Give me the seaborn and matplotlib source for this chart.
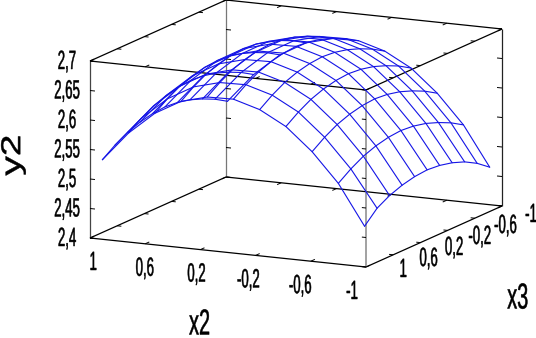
"""Wireframe response surface of y2 over x2 and x3, drawn with a fixed oblique projection."""

import matplotlib

matplotlib.use("Agg")
import matplotlib.patheffects as path_effects
import matplotlib.pyplot as plt
import pandas as pd
import seaborn as sns
from matplotlib.transforms import Affine2D

# Surface grid
x2_grid = [0.94, 0.75, 0.56, 0.37, 0.18, -0.01, -0.20, -0.39, -0.58, -0.77, -0.96]
x3_grid = [0.94, 0.756, 0.572, 0.388, 0.204, 0.02, -0.164, -0.348, -0.532, -0.716, -0.90]

# One row per x2 value, one column per x3 value
y2_grid = [
    [2.531, 2.546, 2.558, 2.566, 2.571, 2.573, 2.571, 2.566, 2.558, 2.548, 2.535],
    [2.581, 2.596, 2.608, 2.616, 2.621, 2.623, 2.621, 2.616, 2.608, 2.598, 2.585],
    [2.619, 2.634, 2.646, 2.654, 2.659, 2.661, 2.659, 2.654, 2.646, 2.636, 2.623],
    [2.644, 2.659, 2.671, 2.679, 2.684, 2.686, 2.684, 2.679, 2.671, 2.661, 2.648],
    [2.656, 2.671, 2.683, 2.691, 2.696, 2.698, 2.696, 2.691, 2.683, 2.673, 2.660],
    [2.657, 2.672, 2.684, 2.692, 2.697, 2.699, 2.697, 2.692, 2.684, 2.674, 2.661],
    [2.644, 2.659, 2.671, 2.679, 2.684, 2.686, 2.684, 2.679, 2.671, 2.661, 2.648],
    [2.620, 2.635, 2.647, 2.655, 2.660, 2.662, 2.660, 2.655, 2.647, 2.637, 2.624],
    [2.582, 2.597, 2.609, 2.617, 2.622, 2.624, 2.622, 2.617, 2.609, 2.599, 2.586],
    [2.533, 2.548, 2.560, 2.568, 2.573, 2.575, 2.573, 2.568, 2.560, 2.550, 2.537],
    [2.465, 2.486, 2.498, 2.506, 2.511, 2.513, 2.511, 2.506, 2.498, 2.486, 2.470],
]

# Axis ticks and their labels
x_ticks = [1, 0.6, 0.2, -0.2, -0.6, -1]
x_tick_labels = ["1", "0,6", "0,2", "-0,2", "-0,6", "-1"]
y_ticks = [2.4, 2.45, 2.5, 2.55, 2.6, 2.65, 2.7]
y_tick_labels = ["2,4", "2,45", "2,5", "2,55", "2,6", "2,65", "2,7"]


class Squeeze(path_effects.AbstractPathEffect):
    """Scale the glyph outlines about their centre; the text itself stays as is."""

    def __init__(self, sx=1.0, sy=1.0, stroke=0.35):
        super().__init__()
        self.sx = sx
        self.sy = sy
        self.stroke = stroke

    def draw_path(self, renderer, gc, tpath, affine, rgbFace=None):
        box = tpath.get_extents()
        cx, cy = (box.x0 + box.x1) / 2, (box.y0 + box.y1) / 2
        squeeze = Affine2D().translate(-cx, -cy).scale(self.sx, self.sy).translate(cx, cy)
        gc0 = renderer.new_gc()
        gc0.copy_properties(gc)
        gc0.set_foreground("black")
        gc0.set_linewidth(self.stroke)
        renderer.draw_path(gc0, tpath, squeeze + affine, rgbFace)
        gc0.restore()


def project(x2, x3, y2):
    """Map data coordinates to figure pixels (oblique projection of the box)."""
    u = (1 - x2) / 2
    v = (1 - x3) / 2
    px = 90 + 276 * u + 136 * v
    py = 238 + 29 * u - 61 * v - 177 * (y2 - 2.4) / 0.3
    return px, py


def segment(ax, start, end, color="black", lw=0.9):
    xs, ys = zip(project(*start), project(*end))
    ax.plot(xs, ys, color=color, lw=lw, solid_capstyle="butt")


def label(ax, px, py, text, size=19, sx=0.5, sy=1.0, rotation=0):
    ax.text(
        px, py, text, fontsize=size, rotation=rotation, ha="center", va="center",
        color="black", path_effects=[Squeeze(sx, sy)],
    )


def surface_table():
    rows = []
    for i, x2 in enumerate(x2_grid):
        for j, x3 in enumerate(x3_grid):
            px, py = project(x2, x3, y2_grid[i][j])
            rows.append({"line": f"x2_{i}", "order": j, "px": px, "py": py})
    for j, x3 in enumerate(x3_grid):
        for i, x2 in enumerate(x2_grid):
            px, py = project(x2, x3, y2_grid[i][j])
            rows.append({"line": f"x3_{j}", "order": i, "px": px, "py": py})
    return pd.DataFrame(rows)


sns.set_theme(style="white")
plt.rcParams["font.family"] = ["Liberation Sans", "DejaVu Sans"]

fig, ax = plt.subplots(figsize=(5.36, 3.38), dpi=100)
fig.subplots_adjust(left=0, right=1, bottom=0, top=1)

# Box edges
for y in (2.4, 2.7):
    segment(ax, (1, 1, y), (-1, 1, y))
    segment(ax, (1, -1, y), (-1, -1, y))
    segment(ax, (1, 1, y), (1, -1, y))
    segment(ax, (-1, 1, y), (-1, -1, y))
segment(ax, (1, 1, 2.4), (1, 1, 2.7), color="#444444")
segment(ax, (-1, -1, 2.4), (-1, -1, 2.7), color="#222222")
segment(ax, (1, -1, 2.4), (1, -1, 2.7), color="#777777")
segment(ax, (-1, 1, 2.4), (-1, 1, 2.7), color="#888888", lw=1.1)

# Tick marks on all the edges
for y in (2.4, 2.7):
    for t in x_ticks:
        segment(ax, (t, 1, y), (t, 0.94, y), lw=0.7)
        segment(ax, (t, -1, y), (t, -0.94, y), lw=0.7)
        segment(ax, (1, t, y), (0.97, t, y), lw=0.7)
        segment(ax, (-1, t, y), (-0.97, t, y), lw=0.7)
for y in y_ticks:
    segment(ax, (1, 1, y), (0.964, 1, y), lw=0.7)
    segment(ax, (1, -1, y), (0.964, -1, y), lw=0.7)
    segment(ax, (-1, 1, y), (-0.97, 1, y), lw=0.7)
    segment(ax, (-1, -1, y), (-0.964, -1, y), lw=0.7)

# Wireframe
sns.lineplot(
    data=surface_table(),
    x="px",
    y="py",
    units="line",
    estimator=None,
    sort=False,
    color="#1414e6",
    linewidth=0.8,
    legend=False,
    ax=ax,
)

# Tick labels
for t, text in zip(x_ticks, x_tick_labels):
    u = (1 - t) / 2
    px, py = project(t, 1, 2.4)
    label(ax, px + 3 - 17 * u, py + 25, text)
    px, py = project(-1, t, 2.4)
    label(ax, px + 37 - 8 * u, py + 3 + 6 * u, text)
for y, text in zip(y_ticks, y_tick_labels):
    px, py = project(1, 1, y)
    label(ax, px - 23, py + 1, text)

# Axis titles
label(ax, 13, 155, "y2", size=28, sx=1.0, sy=0.7, rotation=90)
label(ax, 200, 325, "x2", size=26, sx=0.55)
label(ax, 518, 299, "x3", size=26, sx=0.55)

ax.set_xlim(0, 536)
ax.set_ylim(338, 0)
ax.axis("off")

plt.savefig("out.png", dpi=100)
plt.close()
